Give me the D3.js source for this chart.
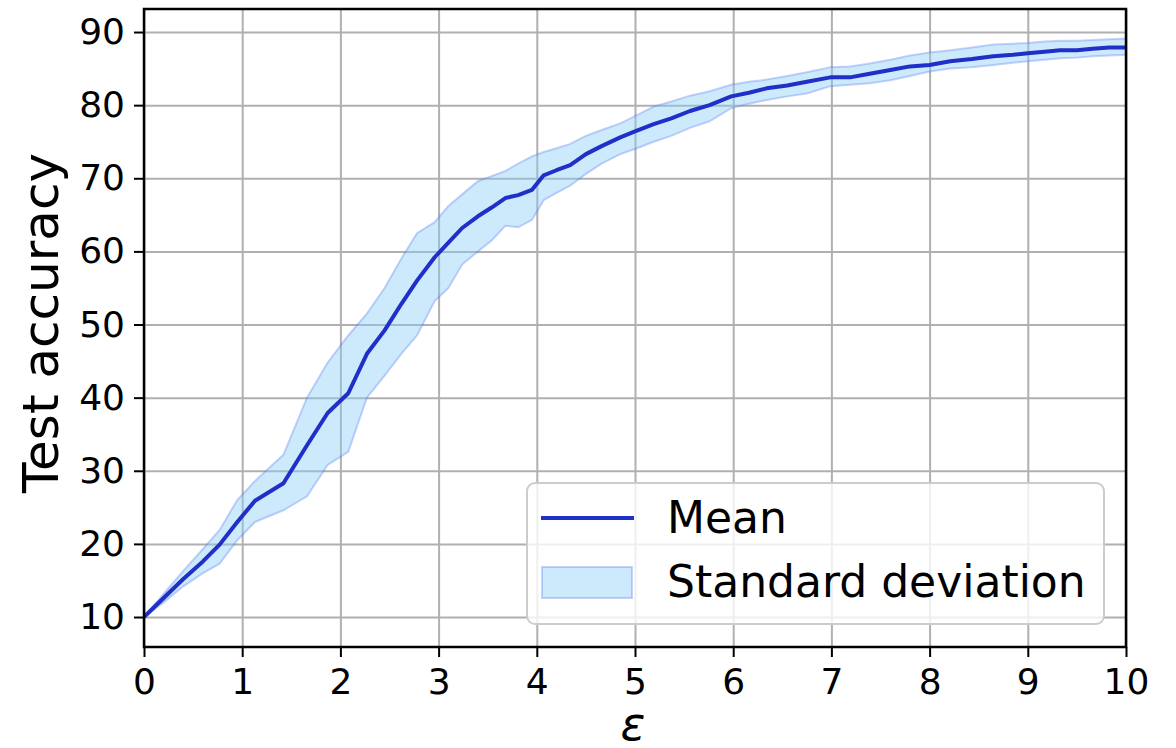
<!DOCTYPE html>
<html>
<head>
<meta charset="utf-8">
<script src="https://cdn.jsdelivr.net/npm/d3@7"></script>
<style>
  body { margin: 0; background: #fff; }
  svg { display: block; font-family: "DejaVu Sans", sans-serif; }
</style>
</head>
<body>
<svg id="chart" width="1176" height="748"></svg>
<script>
// privacy budget values
const epsilon = [0, 0.2, 0.4, 0.6, 0.77, 0.95, 1.13, 1.42, 1.66, 1.87, 2.08, 2.27, 2.45, 2.62, 2.78, 2.96,
  3.1, 3.24, 3.4, 3.54, 3.68, 3.81, 3.95, 4.07, 4.2, 4.34, 4.5, 4.66, 4.85, 5.0, 5.19, 5.37, 5.56, 5.76,
  5.98, 6.16, 6.34, 6.55, 6.75, 6.99, 7.19, 7.39, 7.6, 7.8, 8.0, 8.21, 8.43, 8.65, 8.85, 9.0, 9.17, 9.33,
  9.5, 9.66, 9.83, 10];

const meanAcc = [10, 12.6, 15.2, 17.6, 19.9, 23.0, 25.9, 28.3, 33.5, 37.9, 40.6, 46.0, 49.2, 52.8, 56.0, 59.2,
  61.2, 63.2, 64.8, 66.0, 67.3, 67.7, 68.4, 70.4, 71.1, 71.8, 73.3, 74.4, 75.6, 76.4, 77.4, 78.2, 79.2, 80.0,
  81.2, 81.7, 82.3, 82.7, 83.2, 83.8, 83.8, 84.3, 84.8, 85.3, 85.5, 86.0, 86.3, 86.7, 86.9, 87.1, 87.3, 87.5,
  87.5, 87.7, 87.9, 87.9];

const upperAcc = [10, 13.2, 16.3, 19.3, 21.9, 26.0, 28.6, 32.2, 40.0, 44.8, 48.5, 51.5, 55.0, 59.0, 62.5, 64.0,
  66.2, 67.8, 69.6, 70.3, 71.0, 72.0, 73.0, 73.6, 74.1, 74.7, 75.8, 76.6, 77.5, 78.5, 79.8, 80.5, 81.3, 81.9,
  82.8, 83.2, 83.5, 84.0, 84.5, 85.2, 85.3, 85.7, 86.2, 86.8, 87.2, 87.5, 87.9, 88.3, 88.4, 88.5, 88.7, 88.8,
  88.8, 88.9, 89.0, 89.1];

const lowerAcc = [10, 12.0, 14.2, 16.0, 17.3, 20.5, 23.0, 24.6, 26.5, 30.8, 32.6, 40.0, 43.0, 46.0, 48.5, 53.2,
  55.0, 58.2, 60.0, 61.5, 63.5, 63.3, 64.3, 67.0, 68.0, 69.0, 70.6, 72.0, 73.3, 74.0, 75.0, 75.8, 76.9, 77.8,
  79.6, 80.2, 80.7, 81.2, 81.6, 82.6, 82.8, 83.0, 83.4, 84.0, 84.6, 85.0, 85.2, 85.5, 85.8, 86.0, 86.2, 86.4,
  86.5, 86.7, 86.8, 86.9];

const xTicks = [0, 1, 2, 3, 4, 5, 6, 7, 8, 9, 10];
const yTicks = [10, 20, 30, 40, 50, 60, 70, 80, 90];
const legendLabels = ["Mean", "Standard deviation"];

const data = epsilon.map((e, i) => ({ e: e, m: meanAcc[i], lo: lowerAcc[i], hi: upperAcc[i] }));

// plot box
const plotLeft = 144, plotRight = 1126, plotTop = 9, plotBottom = 647;
const width = plotRight - plotLeft, height = plotBottom - plotTop;

const svg = d3.select("#chart");
const g = svg.append("g").attr("transform", `translate(${plotLeft},${plotTop})`);

const x = d3.scaleLinear().domain([0, 10]).range([0, width]);
const y = d3.scaleLinear().domain([5.9, 93.15]).range([height, 0]);

// grid
g.append("g")
  .call(d3.axisBottom(x).tickValues(xTicks).tickSize(height).tickFormat(""))
  .call(s => s.select(".domain").remove())
  .call(s => s.selectAll("line").attr("stroke", "#b0b0b0").attr("stroke-width", 2));
g.append("g")
  .call(d3.axisLeft(y).tickValues(yTicks).tickSize(-width).tickFormat(""))
  .call(s => s.select(".domain").remove())
  .call(s => s.selectAll("line").attr("stroke", "#b0b0b0").attr("stroke-width", 2));

// std band
const area = d3.area().x(d => x(d.e)).y0(d => y(d.lo)).y1(d => y(d.hi));
g.append("path")
  .datum(data)
  .attr("d", area)
  .attr("fill", "#87cefa")
  .attr("fill-opacity", 0.42)
  .attr("stroke", "#4a6cf0")
  .attr("stroke-opacity", 0.3)
  .attr("stroke-width", 2);

// mean line
const line = d3.line().x(d => x(d.e)).y(d => y(d.m));
g.append("path")
  .datum(data)
  .attr("d", line)
  .attr("fill", "none")
  .attr("stroke", "#1f2fc8")
  .attr("stroke-width", 4)
  .attr("stroke-linejoin", "round");

// axes
const xAxis = g.append("g")
  .attr("transform", `translate(0,${height})`)
  .call(d3.axisBottom(x).tickValues(xTicks).tickSize(10).tickPadding(12).tickFormat(d3.format("d")));
const yAxis = g.append("g")
  .call(d3.axisLeft(y).tickValues(yTicks).tickSize(10).tickPadding(9).tickFormat(d3.format("d")));

[xAxis, yAxis].forEach(a => {
  a.select(".domain").remove();
  a.selectAll("line").attr("stroke", "#000").attr("stroke-width", 2);
  a.selectAll("text")
    .attr("fill", "#000")
    .style("font-family", "'DejaVu Sans', sans-serif")
    .style("font-size", "36px");
});
xAxis.selectAll("text").attr("dy", null).attr("y", 47);

// spines
g.append("rect")
  .attr("width", width).attr("height", height)
  .attr("fill", "none").attr("stroke", "#000").attr("stroke-width", 2.5);

// axis titles
svg.append("text")
  .attr("transform", `translate(58,${(plotTop + plotBottom) / 2 - 5}) rotate(-90)`)
  .attr("text-anchor", "middle")
  .style("font-size", "50px")
  .text("Test accuracy");

svg.append("text")
  .attr("x", plotLeft + width / 2 - 2)
  .attr("y", 740)
  .attr("text-anchor", "middle")
  .style("font-size", "46px")
  .style("font-style", "italic")
  .text("ε");

// legend
const lg = svg.append("g").attr("transform", "translate(527,483)");
lg.append("rect")
  .attr("width", 577).attr("height", 141).attr("rx", 8)
  .attr("fill", "#fff").attr("fill-opacity", 0.8)
  .attr("stroke", "#cccccc").attr("stroke-width", 2);
lg.append("line")
  .attr("x1", 14).attr("x2", 107).attr("y1", 35).attr("y2", 35)
  .attr("stroke", "#1f2fc8").attr("stroke-width", 4);
lg.append("rect")
  .attr("x", 15).attr("y", 84).attr("width", 90).attr("height", 31)
  .attr("fill", "#87cefa").attr("fill-opacity", 0.42)
  .attr("stroke", "#4a6cf0").attr("stroke-opacity", 0.3).attr("stroke-width", 2);
lg.selectAll("text.lab")
  .data(legendLabels)
  .join("text")
  .attr("class", "lab")
  .attr("x", 140)
  .attr("y", (d, i) => 50 + i * 64)
  .style("font-size", "44px")
  .text(d => d);
</script>
</body>
</html>
